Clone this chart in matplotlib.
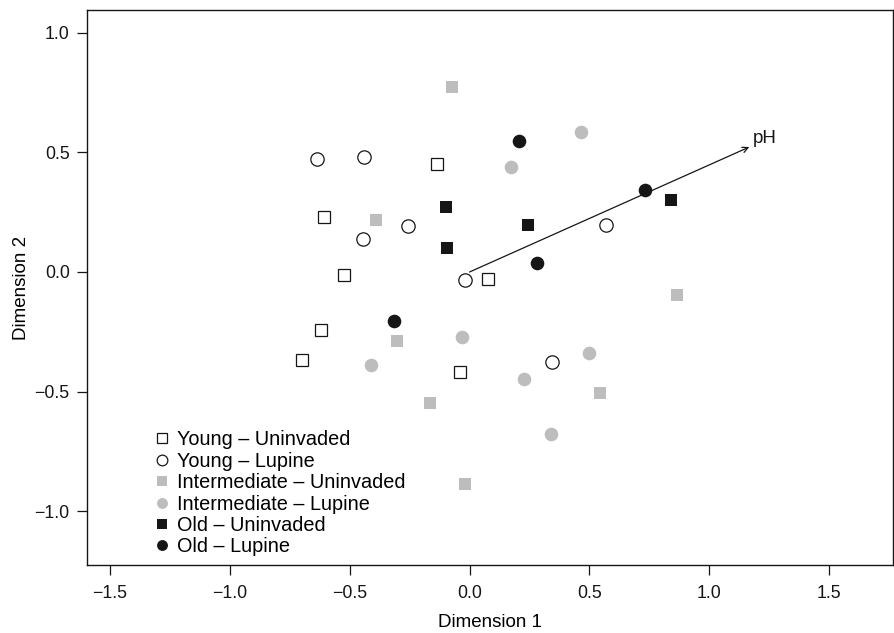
import matplotlib
matplotlib.use('Agg')
import matplotlib.pyplot as plt

plt.rcParams['font.family'] = ['Liberation Sans', 'DejaVu Sans']

# NMDS site scores
young_unin_x = [-0.136, -0.608, -0.525, 0.079, -0.618, -0.701, -0.039]
young_unin_y = [0.452, 0.228, -0.014, -0.031, -0.242, -0.367, -0.416]
young_lup_x = [-0.636, -0.442, -0.258, -0.444, -0.018, 0.569, 0.344]
young_lup_y = [0.473, 0.482, 0.193, 0.139, -0.034, 0.197, -0.377]
inter_unin_x = [-0.072, -0.392, 0.867, -0.304, 0.545, -0.167, -0.017]
inter_unin_y = [0.774, 0.218, -0.097, -0.290, -0.504, -0.549, -0.887]
inter_lup_x = [0.467, 0.171, -0.031, -0.412, 0.499, 0.226, 0.340]
inter_lup_y = [0.585, 0.438, -0.272, -0.388, -0.340, -0.447, -0.678]
old_unin_x = [-0.099, 0.839, 0.243, -0.094]
old_unin_y = [0.272, 0.301, 0.196, 0.100]
old_lup_x = [0.205, 0.731, 0.283, -0.317]
old_lup_y = [0.547, 0.343, 0.036, -0.206]

ph_vector = (1.167, 0.522)

gray = '#bdbdbd'
black = '#161616'

fig = plt.figure(figsize=(8.94, 6.33), dpi=100)
ax = fig.add_axes([0.0973, 0.107, 0.9017, 0.8767])

ms = 9.2
ax.plot(young_unin_x, young_unin_y, 's', ms=ms, mfc='white', mec=black, mew=0.9,
        label='Young \u2013 Uninvaded')
ax.plot(young_lup_x, young_lup_y, 'o', ms=ms + 0.4, mfc='white', mec=black, mew=0.9,
        label='Young \u2013 Lupine')
ax.plot(inter_unin_x, inter_unin_y, 's', ms=ms, mfc=gray, mec=gray, mew=0,
        label='Intermediate \u2013 Uninvaded')
ax.plot(inter_lup_x, inter_lup_y, 'o', ms=ms + 0.6, mfc=gray, mec=gray, mew=0,
        label='Intermediate \u2013 Lupine')
ax.plot(old_unin_x, old_unin_y, 's', ms=ms, mfc=black, mec=black, mew=0,
        label='Old \u2013 Uninvaded')
ax.plot(old_lup_x, old_lup_y, 'o', ms=ms + 0.6, mfc=black, mec=black, mew=0,
        label='Old \u2013 Lupine')

# pH vector
ax.annotate('', xy=ph_vector, xytext=(0, 0),
            arrowprops=dict(arrowstyle='->', color=black, lw=0.9,
                            shrinkA=0, shrinkB=0, mutation_scale=10))
ax.text(ph_vector[0] + 0.016, ph_vector[1] + 0.034, 'pH', fontsize=13.5,
        va='center', ha='left', color=black)

ax.set_xlim(-1.596, 1.767)
ax.set_ylim(-1.225, 1.093)
ax.set_xticks([-1.5, -1.0, -0.5, 0.0, 0.5, 1.0, 1.5])
ax.set_yticks([-1.0, -0.5, 0.0, 0.5, 1.0])
ax.set_xticklabels(['\u22121.5', '\u22121.0', '\u22120.5', '0.0', '0.5', '1.0', '1.5'])
ax.set_yticklabels(['\u22121.0', '\u22120.5', '0.0', '0.5', '1.0'])
ax.tick_params(direction='out', length=7.5, width=0.9, labelsize=12.8, pad=5,
               colors=black)
ax.tick_params(axis='x', pad=7)
ax.set_xlabel('Dimension 1', fontsize=13.5, labelpad=8)
ax.set_ylabel('Dimension 2', fontsize=13.5, labelpad=3)
for sp in ax.spines.values():
    sp.set_linewidth(1.0)
    sp.set_color(black)

ax.legend(loc='upper left', bbox_to_anchor=(0.086, 0.243), frameon=False,
          fontsize=14.3, handlelength=0.6, handletextpad=0.45, labelspacing=0.12,
          borderpad=0, borderaxespad=0, markerscale=0.8)

fig.savefig('out.png', dpi=100)
